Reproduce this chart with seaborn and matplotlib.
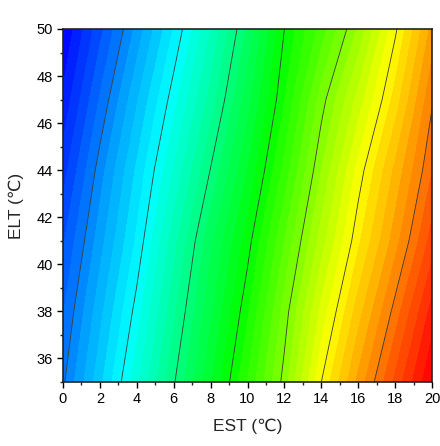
import numpy as np
import matplotlib
matplotlib.use("Agg")
import matplotlib.pyplot as plt
from matplotlib.ticker import MultipleLocator
import seaborn as sns

# Entering source temperature (columns) and entering load temperature (rows)
est = [0, 2, 4, 6, 8, 10, 12, 14, 16, 18, 20]
elt = [35, 38, 41, 44, 47, 50]

# Response values on the EST x ELT grid, one list per ELT row
z_elt35 = [12.90, 14.84, 16.84, 18.93, 20.93, 23.01, 25.22, 28.00, 30.14, 32.13, 34.00]
z_elt38 = [12.45, 14.32, 16.22, 18.37, 20.38, 22.40, 24.72, 27.15, 29.27, 31.21, 33.21]
z_elt41 = [11.92, 13.77, 15.60, 17.78, 19.87, 21.76, 24.00, 26.24, 28.38, 30.27, 32.23]
z_elt44 = [11.26, 13.25, 15.09, 17.02, 19.03, 21.00, 23.16, 25.49, 27.70, 29.62, 31.48]
z_elt47 = [10.60, 12.55, 14.43, 16.29, 18.21, 20.28, 22.47, 24.76, 26.70, 28.71, 30.93]
z_elt50 = [10.00, 11.82, 13.66, 15.53, 17.50, 19.60, 22.00, 23.71, 25.58, 27.89, 30.19]

x_ticks = [0, 2, 4, 6, 8, 10, 12, 14, 16, 18, 20]
y_ticks = [36, 38, 40, 42, 44, 46, 48, 50]

sns.set_style("ticks")
plt.rcParams["font.family"] = ["Liberation Sans", "DejaVu Sans"]

Z = np.array([z_elt35, z_elt38, z_elt41, z_elt44, z_elt47, z_elt50])
X, Y = np.meshgrid(est, elt)

fill_levels = np.arange(10.0, 34.0 + 0.25, 0.5)
fill_levels[-1] = 34.001
line_levels = np.arange(13.0, 31.0 + 0.1, 3.0)

cmap = sns.blend_palette(["#0000FF", "#00FFFF", "#00FF00", "#FFFF00", "#FF0000"],
                         n_colors=256, as_cmap=True)

fig = plt.figure(figsize=(4.40, 4.46), dpi=100)
ax = fig.add_axes([0.143, 0.1435, 0.839, 0.7915])

ax.contourf(X, Y, Z, levels=fill_levels, cmap=cmap, vmin=10.0, vmax=34.0)
ax.contour(X, Y, Z, levels=line_levels, colors="#3a3a3a", linewidths=0.6)

ax.set_xlim(0, 20)
ax.set_ylim(35, 50)
ax.set_xticks(x_ticks)
ax.set_yticks(y_ticks)
ax.xaxis.set_minor_locator(MultipleLocator(1))
ax.yaxis.set_minor_locator(MultipleLocator(1))
ax.tick_params(axis="both", which="major", direction="out", length=4.5, width=1.0,
               labelsize=10.5, colors="black", pad=3)
ax.tick_params(axis="both", which="minor", direction="out", length=2.5, width=1.0)
ax.tick_params(top=False, right=False, which="both")

for side in ax.spines.values():
    side.set_linewidth(1.2)
    side.set_color("#222222")

ax.set_xlabel("EST (℃)", fontsize=12.5, labelpad=9)
ax.set_ylabel("ELT (℃)", fontsize=12.5, labelpad=9)

fig.savefig("out.png", dpi=100)
